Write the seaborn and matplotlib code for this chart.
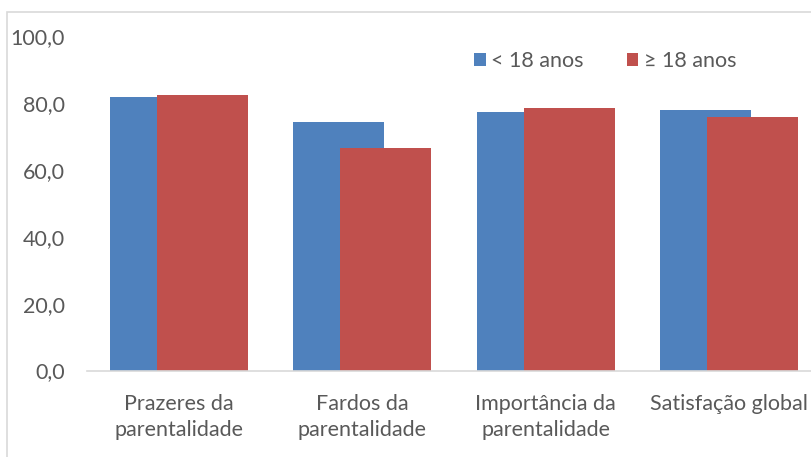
import matplotlib
matplotlib.use("Agg")
import matplotlib.pyplot as plt
import seaborn as sns
import pandas as pd
from matplotlib.patches import Rectangle, Patch

categories = ["Prazeres da\nparentalidade", "Fardos da\nparentalidade",
              "Importância da\nparentalidade", "Satisfação global"]
series_names = ["< 18 anos", "≥ 18 anos"]
under_18 = [81.9, 74.2, 77.2, 77.8]
over_18 = [82.5, 66.4, 78.6, 75.9]
y_ticks = [0, 20, 40, 60, 80, 100]
y_tick_labels = ["0,0", "20,0", "40,0", "60,0", "80,0", "100,0"]

colors = ["#4F81BD", "#C0504D"]
text_color = "#595959"
fs = 15.5

df = pd.DataFrame({
    "cat": categories * 2,
    "val": under_18 + over_18,
    "grp": [series_names[0]] * 4 + [series_names[1]] * 4,
})

sns.set_theme(style="white")
plt.rcParams["font.family"] = ["Lato", "DejaVu Sans"]

fig = plt.figure(figsize=(8.11, 4.57), dpi=100)
W, H = 811, 457
ax = fig.add_axes([87.25 / W, (H - 370.5) / H, 733.75 / W, (370.5 - 36) / H])

sns.barplot(data=df, x="cat", y="val", hue="grp", hue_order=series_names,
            palette=colors, dodge=True, width=0.512, saturation=1,
            legend=False, ax=ax, errorbar=None)

# widen bars so they overlap (Excel-style overlap)
bar_w = 0.496
for p in ax.patches:
    c = p.get_x() + p.get_width() / 2
    p.set_width(bar_w)
    p.set_x(c - bar_w / 2)
    p.set_linewidth(0)

ax.set_xlim(-0.5, 3.5)
ax.set_ylim(0, 100)
ax.set_yticks(y_ticks)
ax.set_yticklabels(y_tick_labels)
ax.set_xlabel("")
ax.set_ylabel("")
ax.tick_params(axis="both", length=0, colors=text_color, labelsize=fs)
ax.tick_params(axis="y", pad=16)
ax.tick_params(axis="x", pad=17)
for lbl in ax.get_xticklabels():
    lbl.set_linespacing(1.35)
for s in ["top", "right", "left"]:
    ax.spines[s].set_visible(False)
ax.spines["bottom"].set_color("#D9D9D9")
ax.spines["bottom"].set_linewidth(1.2)
ax.grid(False)

handles = [Patch(facecolor=colors[0], edgecolor="none"),
           Patch(facecolor=colors[1], edgecolor="none")]
fig.legend(handles, series_names, loc="center", ncol=2, frameon=False,
           bbox_to_anchor=(605 / W, 1 - 61 / H), bbox_transform=fig.transFigure,
           fontsize=fs, labelcolor=text_color, handlelength=0.55,
           handleheight=0.55, handletextpad=0.25, columnspacing=2.0)

fig.patches.append(Rectangle((7 / W, -0.1), 1.2, 1 - 12 / H + 0.1,
                             transform=fig.transFigure, fill=False,
                             edgecolor="#D9D9D9", linewidth=1.2, zorder=0))

fig.savefig("out.png", dpi=100)
